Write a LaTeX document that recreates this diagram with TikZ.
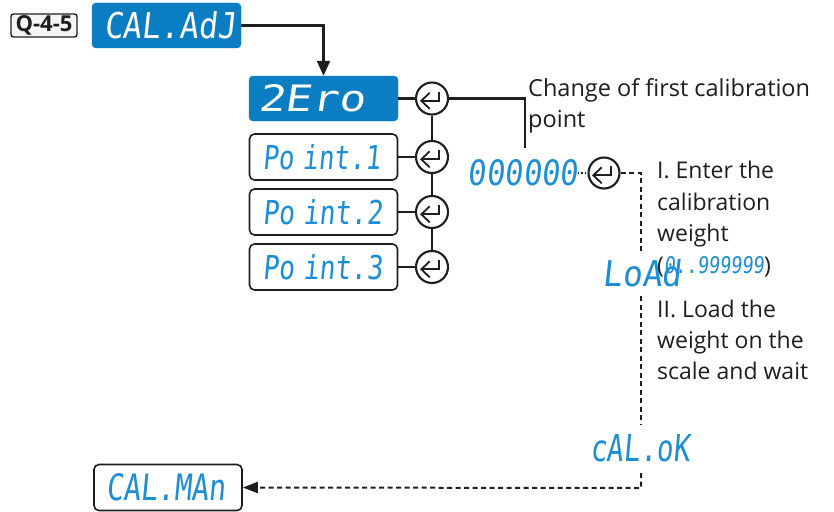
\documentclass[tikz,border=0pt]{standalone}
\usepackage{fontspec}
\usepackage{graphicx}
\setmainfont{Open Sans}
\newfontfamily\segfont{DejaVu Sans Mono}[FakeSlant=0.12]
\usetikzlibrary{arrows.meta}
\definecolor{boxblue}{HTML}{0A7DC3}
\definecolor{segblue}{HTML}{1A8ED6}
\definecolor{linegray}{HTML}{1E1E1E}
\newcommand{\segtext}[3]{\resizebox{#1}{#2}{\segfont #3}}
\newcommand{\entermark}[1]{%
  \draw[symline] ([shift={(7,-6.7)}]#1.center) -- ([shift={(7,2.3)}]#1.center) -- ([shift={(-10.7,2.3)}]#1.center);
  \draw[symline] ([shift={(-2.3,-5.7)}]#1.center) -- ([shift={(-10.7,2.3)}]#1.center) -- ([shift={(-2.3,10.3)}]#1.center);}
\begin{document}
\begin{tikzpicture}[x=1pt,y=-1pt,
  bluebox/.style={draw=boxblue,fill=boxblue,rounded corners=4pt,minimum height=45pt,text width=149pt,inner xsep=0pt,align=left,text=white},
  whitebox/.style={draw=linegray,fill=white,line width=1.6pt,rounded corners=5pt,minimum height=46pt,text width=148pt,inner xsep=0pt,align=left,text=segblue},
  enterc/.style={circle,draw=linegray,line width=2.1pt,minimum size=32pt,inner sep=0pt},
  symline/.style={draw=linegray,line width=1.8pt},
  conn/.style={draw=linegray,line width=2.2pt},
  dashconn/.style={draw=linegray,line width=2pt,dash pattern=on 5pt off 3.5pt},
  seg/.style={text=segblue,inner sep=0pt},
  lbl/.style={inner sep=0pt,anchor=base west,font=\fontsize{23}{28}\selectfont,text=linegray}
]
\path[use as bounding box] (0,0) rectangle (834,511);

% Q-4-5 label
\node[draw=linegray,fill=gray!8,line width=1.4pt,rounded corners=2.5pt,minimum width=66pt,minimum height=23pt,inner sep=0pt,font=\bfseries\fontsize{22}{22}\selectfont,text=linegray] (q45) at (44,25.5) {Q-4-5};

% menu boxes
\node[bluebox] (caladj) at (166.5,25.5) {\hspace*{12pt}\segtext{132pt}{27pt}{CAL.AdJ}};
\node[bluebox] (zero) at (323.5,98.5) {\hspace*{9pt}\segtext{107pt}{27pt}{2Ero}};
\node[whitebox] (p1) at (323.5,157) {\hspace*{13pt}\segtext{118pt}{25pt}{Po int.1}};
\node[whitebox] (p2) at (323.5,212) {\hspace*{13pt}\segtext{120pt}{25pt}{Po int.2}};
\node[whitebox] (p3) at (323.5,267) {\hspace*{13pt}\segtext{120pt}{25pt}{Po int.3}};
\node[whitebox] (calman) at (168,487.5) {\hspace*{12pt}\segtext{120pt}{27pt}{CAL.MAn}};

% enter circles
\node[enterc] (e0) at (432,98.5) {};
\node[enterc] (e1) at (432,157) {};
\node[enterc] (e2) at (432,212) {};
\node[enterc] (e3) at (432,267) {};
\node[enterc,minimum size=31pt] (e4) at (604,173) {};
\entermark{e0}\entermark{e1}\entermark{e2}\entermark{e3}\entermark{e4}

% displays
\node[seg] (zeros) at (523,173) {\segtext{110pt}{26pt}{000000}};
\node[seg] (load) at (642,273) {\segtext{79pt}{27pt}{LoAd}};
\node[seg] (calok) at (640,448) {\segtext{100pt}{27pt}{cAL.oK}};

% texts
\node[lbl,font=\fontsize{23.5}{28}\selectfont] (c1) at (528,96) {Change of first calibration};
\node[lbl,font=\fontsize{23.5}{28}\selectfont] (c2) at (528,127) {point};
\node[lbl] (t1) at (657,178) {I. Enter the};
\node[lbl] (t2) at (657,210) {calibration};
\node[lbl] (t3) at (657,241) {weight};
\node[lbl] (t4) at (657,273) {(\textcolor{segblue}{\segtext{100pt}{17pt}{0..999999}})};
\node[lbl] (t5) at (657,317) {II. Load the};
\node[lbl] (t6) at (657,348) {weight on the};
\node[lbl] (t7) at (657,379) {scale and wait};

% coordinates
\coordinate (k1) at (525,98.5);
\coordinate (k2) at (525,148);
\coordinate (d1) at (641,173);
\coordinate (d2) at (641,252);
\coordinate (d3) at (641,296);
\coordinate (d4) at (641,425);
\coordinate (d5) at (641,473);
\coordinate (d6) at (641,488);

% connectors
\draw[conn,-{Triangle[width=13pt,length=15pt]}] (caladj.east) -| (zero.north);
\draw[conn] (zero.east) -- (e0.west);
\draw[conn] (p1.east) -- (e1.west);
\draw[conn] (p2.east) -- (e2.west);
\draw[conn] (p3.east) -- (e3.west);
\draw[conn] (e0.south) -- (e1.north);
\draw[conn] (e1.south) -- (e2.north);
\draw[conn] (e2.south) -- (e3.north);
\draw[conn] (e0.east) -- (k1) -- (k2);
\draw[draw=linegray,line width=1.2pt,dotted] (zeros.east) -- (e4.west);
\draw[dashconn] (e4.east) -- (d1) -- (d2);
\draw[dashconn] (d3) -- (d4);
\draw[dashconn,-{Triangle[width=11pt,length=15pt]}] (d5) -- (d6) -- (calman.east);
\end{tikzpicture}
\end{document}
